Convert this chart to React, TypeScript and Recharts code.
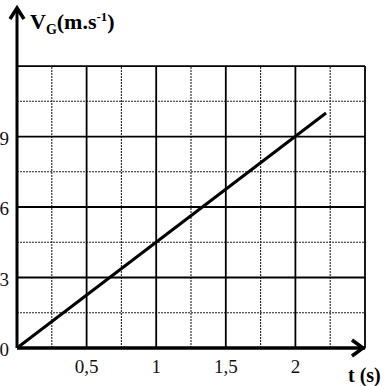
import React from 'react';
import { LineChart, Line, XAxis, YAxis, ReferenceLine, ReferenceDot } from 'recharts';

// velocity of G against time
const timeValues = [0, 2.22];
const speedValues = [0, 10];

const xTicks = [0.5, 1, 1.5, 2];
const yTicks = [0, 3, 6, 9];
const majorT = [0.5, 1, 1.5, 2, 2.5];
const minorT = [0.25, 0.75, 1.25, 1.75, 2.25];
const majorV = [3, 6, 9, 12];
const minorV = [1.5, 4.5, 7.5, 10.5];
const tMax = 2.5;
const vGrid = 12;
const vTop = 14.47;

const data = timeValues.map((t, i) => ({ t, v: speedValues[i] }));

const serif = "'Liberation Serif', 'DejaVu Serif', serif";

const XTick = (props: any) => {
  const { x, y, payload } = props;
  return (
    <text x={x} y={y + 17} textAnchor="middle" fontFamily="Liberation Serif" fontSize={19} fill="#111">
      {String(payload.value).replace('.', ',')}
    </text>
  );
};

const YTick = (props: any) => {
  const { y, payload } = props;
  return (
    <text x={9} y={y + 8} textAnchor="end" fontFamily="Liberation Serif" fontSize={19} fill="#111">
      {payload.value}
    </text>
  );
};

const XArrow = (props: any) => {
  const { cx, cy } = props;
  const tip = cx - 2;
  return (
    <path
      d={`M${tip - 11},${cy - 8} L${tip},${cy} L${tip - 11},${cy + 8}`}
      fill="none"
      stroke="#000"
      strokeWidth={3.5}
    />
  );
};

const YArrow = (props: any) => {
  const { cx, cy } = props;
  return (
    <path
      d={`M${cx - 7},${cy + 11} L${cx},${cy} L${cx + 7},${cy + 11}`}
      fill="none"
      stroke="#000"
      strokeWidth={3.5}
    />
  );
};

const TitleLabel = () => (
  <text x={30} y={29} fontFamily="Liberation Serif" fontSize={22} fontWeight="bold" fill="#000">
    V
    <tspan fontSize={14} dy={5}>G</tspan>
    <tspan fontSize={22} dy={-5}>(m.s</tspan>
    <tspan fontSize={13} dy={-8}>-1</tspan>
    <tspan fontSize={22} dy={8}>)</tspan>
  </text>
);

const AxisLabel = () => (
  <text x={348} y={382} fontFamily={serif} fontSize={20} fontWeight="bold" fill="#000">
    t (s)
  </text>
);

export default function App() {
  return (
    <div style={{ position: 'absolute', left: 0, top: 0, width: 385, height: 386, background: '#fff' }}>
      <LineChart width={385} height={386} data={data} margin={{ top: 8, right: 20, bottom: 0, left: 0 }}>
        {minorT.map((t) => (
          <ReferenceLine key={'mt' + t} segment={[{ x: t, y: 0 }, { x: t, y: vGrid }]} stroke="#222" strokeWidth={1.1} strokeDasharray="2 1" />
        ))}
        {minorV.map((v) => (
          <ReferenceLine key={'mv' + v} segment={[{ x: 0, y: v }, { x: tMax, y: v }]} stroke="#222" strokeWidth={1.1} strokeDasharray="2 1" />
        ))}
        {majorT.map((t) => (
          <ReferenceLine key={'Mt' + t} segment={[{ x: t, y: 0 }, { x: t, y: vGrid }]} stroke="#000" strokeWidth={1.8} />
        ))}
        {majorV.map((v) => (
          <ReferenceLine key={'Mv' + v} segment={[{ x: 0, y: v }, { x: tMax, y: v }]} stroke="#000" strokeWidth={1.8} />
        ))}
        <XAxis
          dataKey="t"
          type="number"
          domain={[0, tMax]}
          ticks={xTicks}
          height={38}
          axisLine={{ stroke: '#000', strokeWidth: 3.5 }}
          tickLine={false}
          tick={<XTick />}
          label={<AxisLabel />}
        />
        <YAxis
          type="number"
          domain={[0, vTop]}
          ticks={yTicks}
          width={17}
          axisLine={{ stroke: '#000', strokeWidth: 3 }}
          tickLine={false}
          tick={<YTick />}
          label={<TitleLabel />}
        />
        <Line
          dataKey="v"
          stroke="#000"
          strokeWidth={3}
          dot={false}
          isAnimationActive={false}
        />
        <ReferenceDot x={tMax} y={0} r={0} shape={<XArrow />} ifOverflow="visible" />
        <ReferenceDot x={0} y={vTop} r={0} shape={<YArrow />} ifOverflow="visible" />
      </LineChart>
    </div>
  );
}
